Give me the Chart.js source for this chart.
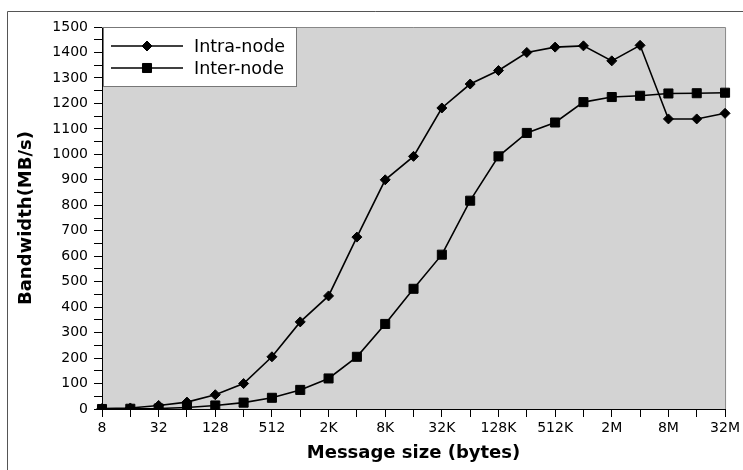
<!DOCTYPE html>
<html>
<head>
<meta charset="utf-8">
<script src="https://cdn.jsdelivr.net/npm/chart.js@4/dist/chart.umd.min.js"></script>
<style>
  body { margin: 0; background: #fff; }
  canvas { display: block; }
</style>
</head>
<body>
<canvas id="chart" width="743" height="470"></canvas>
<script>
const messageSizes = ['8', '16', '32', '64', '128', '256', '512', '1K', '2K', '4K', '8K', '16K',
  '32K', '64K', '128K', '256K', '512K', '1M', '2M', '4M', '8M', '16M', '32M'];
const intraNode = [2, 4, 14, 27, 56, 100, 205, 342, 444, 675, 900, 992,
  1182, 1276, 1329, 1400, 1421, 1426, 1367, 1428, 1139, 1139, 1161];
const interNode = [0, 1, 2, 6, 14, 25, 44, 75, 120, 205, 334, 472,
  606, 818, 992, 1084, 1125, 1205, 1225, 1230, 1239, 1240, 1242];

Chart.defaults.font.family = 'DejaVu Sans';
Chart.defaults.color = '#000';

// draw a marker the same way for legend and points
function marker(ctx, style, x, y, r) {
  ctx.beginPath();
  if (style === 'rectRot') {
    ctx.moveTo(x, y - r);
    ctx.lineTo(x + r, y);
    ctx.lineTo(x, y + r);
    ctx.lineTo(x - r, y);
  } else {
    const s = r * Math.SQRT1_2;
    ctx.rect(x - s, y - s, 2 * s, 2 * s);
  }
  ctx.closePath();
  ctx.fill();
  ctx.stroke();
}

const plotBox = {
  id: 'plotBox',
  beforeDraw(chart) {
    const { ctx, chartArea: a } = chart;
    ctx.save();
    ctx.fillStyle = '#d3d3d3';
    ctx.fillRect(a.left, a.top, a.right - a.left, a.bottom - a.top);
    // outer frame (top and left only visible)
    ctx.strokeStyle = '#555';
    ctx.lineWidth = 1;
    ctx.beginPath();
    ctx.moveTo(7.5, 470);
    ctx.lineTo(7.5, 11.5);
    ctx.lineTo(743, 11.5);
    ctx.stroke();
    ctx.restore();
  },
  beforeDatasetsDraw(chart) {
    const { ctx, chartArea: a } = chart;
    ctx.save();
    ctx.strokeStyle = '#888';
    ctx.lineWidth = 1;
    ctx.beginPath();
    ctx.moveTo(a.left, a.top + 0.5);
    ctx.lineTo(a.right + 0.5, a.top + 0.5);
    ctx.lineTo(a.right + 0.5, a.bottom);
    ctx.stroke();
    ctx.restore();
  }
};

const boxLegend = {
  id: 'boxLegend',
  afterDraw(chart) {
    const { ctx } = chart;
    const x = 103, y = 27, w = 193, h = 59;
    ctx.save();
    ctx.fillStyle = '#fff';
    ctx.fillRect(x, y, w, h);
    ctx.strokeStyle = '#777';
    ctx.lineWidth = 1;
    ctx.strokeRect(x + 0.5, y + 0.5, w, h);
    chart.data.datasets.forEach((ds, i) => {
      const cy = 46 + i * 22;
      ctx.strokeStyle = '#000';
      ctx.lineWidth = 1.5;
      ctx.beginPath();
      ctx.moveTo(111, cy);
      ctx.lineTo(183, cy);
      ctx.stroke();
      ctx.fillStyle = '#000';
      ctx.lineWidth = 1;
      marker(ctx, ds.pointStyle, 147, cy, ds.pointRadius);
      ctx.font = '17.5px "DejaVu Sans"';
      ctx.textBaseline = 'middle';
      ctx.fillText(ds.label, 194, cy + 1);
    });
    ctx.restore();
  }
};

new Chart(document.getElementById('chart'), {
  type: 'line',
  data: {
    labels: messageSizes,
    datasets: [
      {
        label: 'Intra-node',
        data: intraNode,
        borderColor: '#000',
        backgroundColor: '#000',
        borderWidth: 1.6,
        pointStyle: 'rectRot',
        pointRadius: 5,
        pointBorderWidth: 1,
        tension: 0
      },
      {
        label: 'Inter-node',
        data: interNode,
        borderColor: '#000',
        backgroundColor: '#000',
        borderWidth: 1.6,
        pointStyle: 'rect',
        pointRadius: 6.4,
        pointBorderWidth: 1,
        tension: 0
      }
    ]
  },
  options: {
    responsive: false,
    animation: false,
    layout: { padding: { left: 0, top: 27, right: 16, bottom: 0 } },
    plugins: {
      legend: { display: false },
      tooltip: { enabled: false }
    },
    scales: {
      x: {
        offset: false,
        afterFit: (scale) => { scale.height = 61; },
        grid: { display: true, drawOnChartArea: false, drawTicks: true, tickLength: 8, color: '#000' },
        border: { display: true, color: '#000', width: 1 },
        ticks: {
          autoSkip: false,
          maxRotation: 0,
          padding: 3,
          font: { size: 14 },
          callback: (v, i) => (i % 2 === 0 ? messageSizes[i] : '')
        },
        title: {
          display: true,
          text: 'Message size (bytes)',
          font: { size: 18, weight: 'bold' },
          padding: { top: 4, bottom: 6 }
        }
      },
      y: {
        min: 0,
        max: 1500,
        afterFit: (scale) => { scale.width = 102; },
        grid: { display: true, drawOnChartArea: false, drawTicks: true, tickLength: 8, color: '#000' },
        border: { display: true, color: '#000', width: 1 },
        ticks: {
          stepSize: 50,
          autoSkip: false,
          padding: 6,
          font: { size: 14 },
          callback: (v) => (v % 100 === 0 ? v : '')
        },
        title: {
          display: true,
          text: 'Bandwidth(MB/s)',
          font: { size: 18, weight: 'bold' },
          padding: { top: 16, bottom: 0 }
        }
      }
    }
  },
  plugins: [plotBox, boxLegend]
});
</script>
</body>
</html>
